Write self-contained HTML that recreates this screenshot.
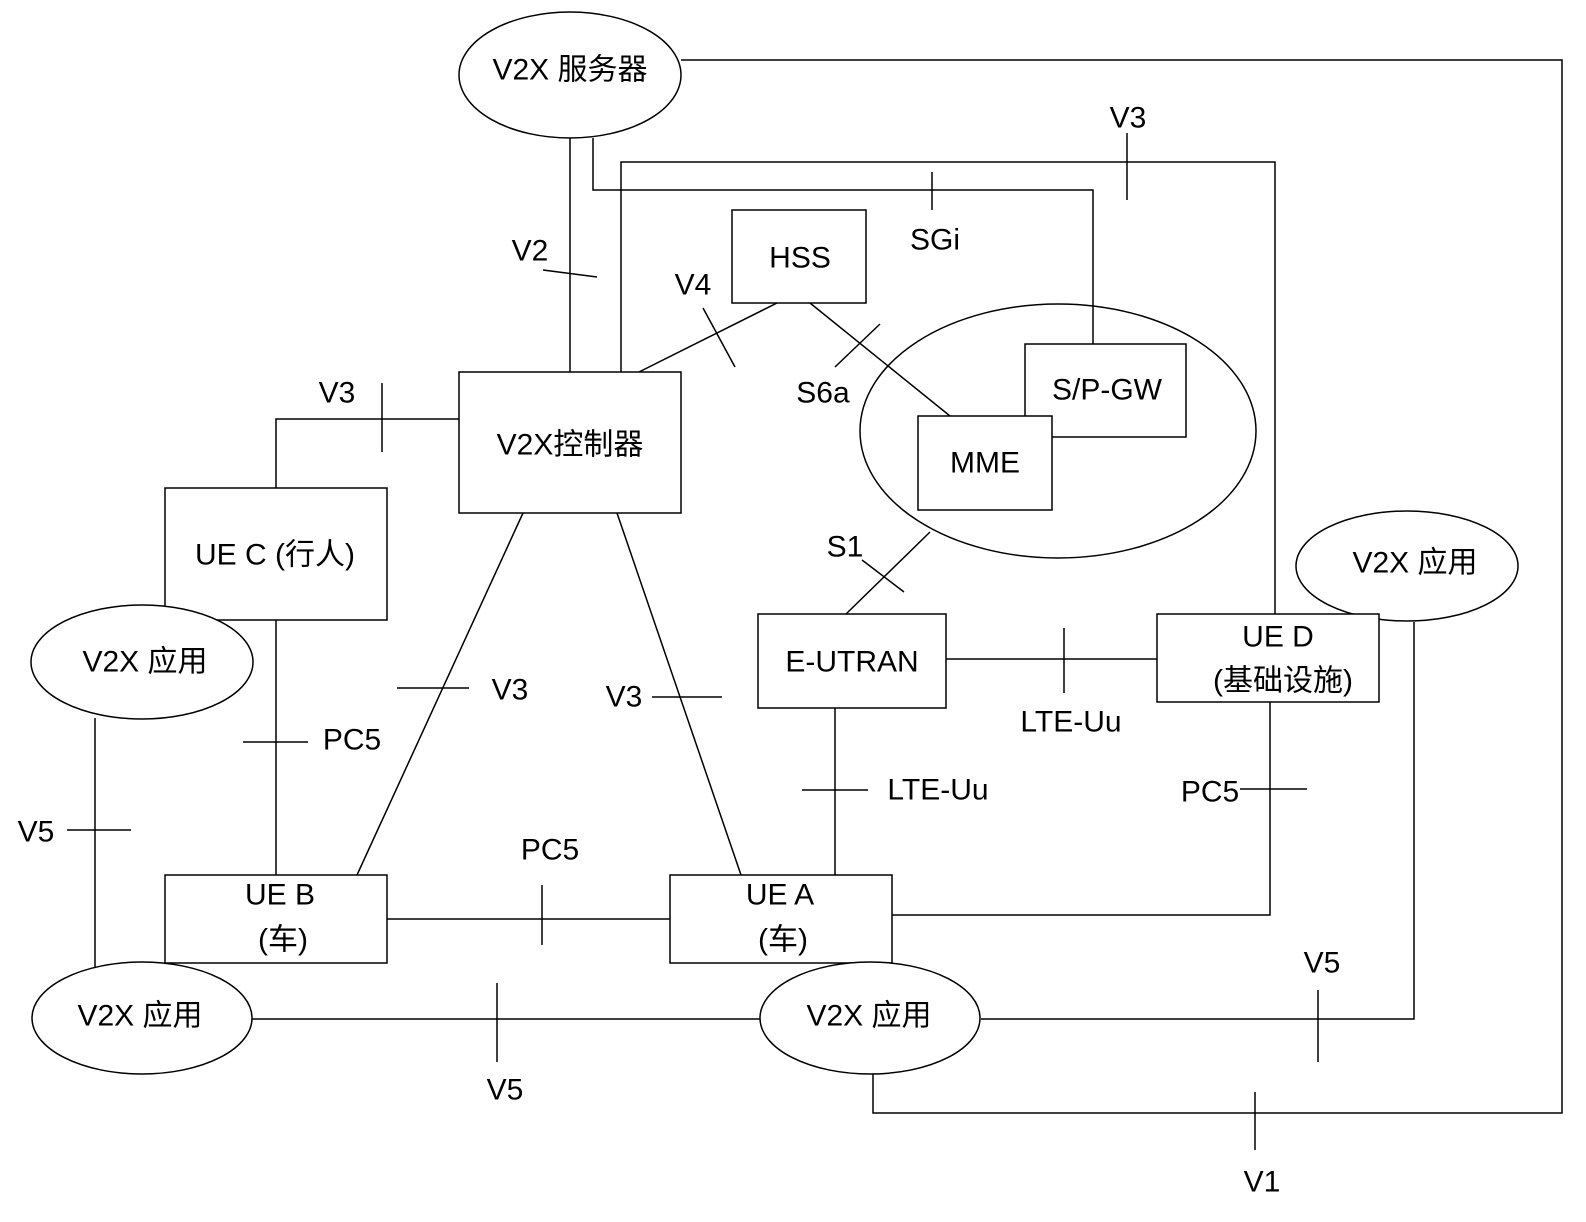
<!DOCTYPE html>
<html><head><meta charset="utf-8"><style>
html,body{margin:0;padding:0;background:#fff}
svg{display:block}
text{font-family:"Liberation Sans","Noto Sans CJK SC",sans-serif;font-size:30px;fill:#000;text-anchor:middle;dominant-baseline:central}
</style></head><body>
<svg width="1586" height="1222" viewBox="0 0 1586 1222" xmlns="http://www.w3.org/2000/svg">
<g fill="none" stroke="#000" stroke-width="1.5">
<polyline points="681,60 1562,60 1562,1113 873,1113 873,1072"/>
<line x1="1255" y1="1092" x2="1255" y2="1150"/>
<line x1="570" y1="138" x2="570" y2="372"/>
<line x1="543" y1="270" x2="597" y2="277"/>
<polyline points="593,138 593,190 1093,190 1093,344"/>
<line x1="932" y1="172" x2="932" y2="210"/>
<polyline points="621,372 621,162 1275,162 1275,614"/>
<line x1="1127" y1="133" x2="1127" y2="200"/>
<line x1="639" y1="372" x2="777" y2="303"/>
<line x1="703" y1="308" x2="735" y2="367"/>
<line x1="810" y1="303" x2="950" y2="416"/>
<line x1="835" y1="367" x2="880" y2="324"/>
<polyline points="459,419 276,419 276,488"/>
<line x1="382" y1="383" x2="382" y2="452"/>
<line x1="276" y1="620" x2="276" y2="875"/>
<line x1="243" y1="742" x2="308" y2="742"/>
<line x1="95" y1="718" x2="95" y2="968"/>
<line x1="67" y1="830" x2="131" y2="830"/>
<line x1="523" y1="513" x2="357" y2="875"/>
<line x1="397" y1="688" x2="469" y2="688"/>
<line x1="617" y1="513" x2="741" y2="875"/>
<line x1="652" y1="697" x2="722" y2="697"/>
<line x1="387" y1="919" x2="670" y2="919"/>
<line x1="542" y1="885" x2="542" y2="945"/>
<line x1="846" y1="614" x2="930" y2="532"/>
<line x1="862" y1="560" x2="904" y2="592"/>
<line x1="835" y1="708" x2="835" y2="875"/>
<line x1="802" y1="790" x2="868" y2="790"/>
<line x1="946" y1="659" x2="1157" y2="659"/>
<line x1="1064" y1="628" x2="1064" y2="693"/>
<polyline points="1270,702 1270,915 892,915"/>
<line x1="1240" y1="789" x2="1307" y2="789"/>
<polyline points="981,1019 1414,1019 1414,622"/>
<line x1="1318" y1="990" x2="1318" y2="1062"/>
<line x1="252" y1="1019" x2="760" y2="1019"/>
<line x1="497" y1="983" x2="497" y2="1062"/>
<ellipse cx="1058" cy="431" rx="198" ry="127"/>
</g>
<g fill="#fff" stroke="#000" stroke-width="1.5">
<ellipse cx="570" cy="75" rx="111" ry="63"/>
<rect x="732" y="210" width="134" height="93"/>
<rect x="1025" y="344" width="161" height="93"/>
<rect x="918" y="416" width="134" height="94"/>
<rect x="459" y="372" width="222" height="141"/>
<rect x="165" y="488" width="222" height="132"/>
<ellipse cx="142" cy="662" rx="111" ry="57"/>
<rect x="165" y="875" width="222" height="88"/>
<rect x="670" y="875" width="222" height="88"/>
<rect x="758" y="614" width="188" height="94"/>
<ellipse cx="1407" cy="566" rx="111" ry="55"/>
<rect x="1157" y="614" width="222" height="88"/>
<ellipse cx="142" cy="1018" rx="110" ry="56"/>
<ellipse cx="870" cy="1018" rx="110" ry="56"/>
</g>
<text x="570" y="70">V2X 服务器</text>
<text x="800" y="258">HSS</text>
<text x="1107" y="390">S/P-GW</text>
<text x="985" y="463">MME</text>
<text x="570" y="445">V2X控制器</text>
<text x="275" y="555">UE C (行人)</text>
<text x="145" y="662">V2X 应用</text>
<text x="280" y="895">UE B</text>
<text x="283" y="940">(车)</text>
<text x="780" y="895">UE A</text>
<text x="783" y="940">(车)</text>
<text x="852" y="662">E-UTRAN</text>
<text x="1278" y="637">UE D</text>
<text x="1283" y="681">(基础设施)</text>
<text x="1415" y="563">V2X 应用</text>
<text x="140" y="1016">V2X 应用</text>
<text x="869" y="1016">V2X 应用</text>
<text x="1262" y="1182">V1</text>
<text x="530" y="251">V2</text>
<text x="935" y="240">SGi</text>
<text x="1128" y="118">V3</text>
<text x="693" y="285">V4</text>
<text x="823" y="393">S6a</text>
<text x="337" y="393">V3</text>
<text x="352" y="740">PC5</text>
<text x="36" y="832">V5</text>
<text x="510" y="690">V3</text>
<text x="624" y="697">V3</text>
<text x="550" y="850">PC5</text>
<text x="845" y="547">S1</text>
<text x="938" y="790">LTE-Uu</text>
<text x="1071" y="722">LTE-Uu</text>
<text x="1210" y="792">PC5</text>
<text x="1322" y="963">V5</text>
<text x="505" y="1090">V5</text>
</svg>
</body></html>
